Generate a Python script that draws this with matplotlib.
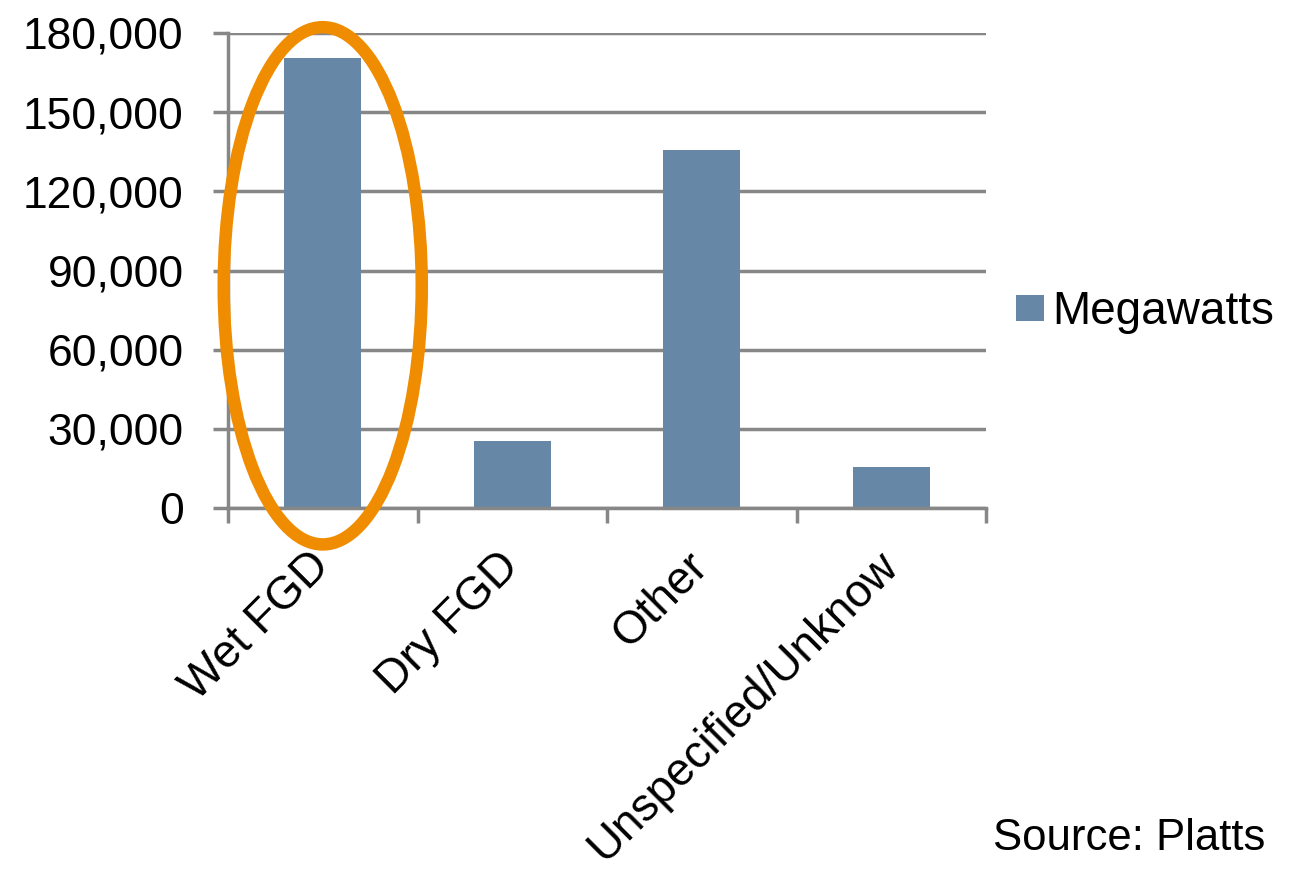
import matplotlib
matplotlib.use("Agg")
import matplotlib.pyplot as plt
from matplotlib.patches import Ellipse
from matplotlib.ticker import FuncFormatter

categories = ["Wet FGD", "Dry FGD", "Other", "Unspecified/Unknow"]
megawatts = [170500, 25300, 135700, 15500]
yticks = [0, 30000, 60000, 90000, 120000, 150000, 180000]

plt.rcParams['font.family'] = ['Liberation Sans', 'DejaVu Sans']
GRAY = '#878787'
BAR = '#6687A6'
ORANGE = '#F08C00'

fig = plt.figure(figsize=(12.9, 8.74), dpi=100)
ax = fig.add_axes([228/1290, 1-508/874, (986-228)/1290, (508-33)/874])

x = list(range(len(categories)))
ax.bar(x, megawatts, width=0.405, color=BAR, label='Megawatts', zorder=2)
ax.set_xlim(-0.5, len(categories)-0.5)
ax.set_ylim(0, 180000)
ax.set_yticks(yticks)
ax.yaxis.set_major_formatter(FuncFormatter(lambda v, p: f"{int(v):,}"))
ax.grid(axis='y', color=GRAY, linewidth=2.5, zorder=0)
ax.set_axisbelow(True)

for s in ['top', 'right']:
    ax.spines[s].set_visible(False)
for s in ['left', 'bottom']:
    ax.spines[s].set_color(GRAY)
    ax.spines[s].set_linewidth(2.5)

ax.set_xticks([i - 0.5 for i in range(len(categories)+1)], minor=False)
ax.set_xticklabels([])
ax.set_xticks(x, minor=True)
ax.set_xticklabels(categories, minor=True, rotation=45, ha='right', va='center',
                   rotation_mode='anchor', fontsize=33)
ax.tick_params(axis='x', which='major', length=11, width=2.5, color=GRAY, direction='out')
ax.tick_params(axis='x', which='minor', length=0, pad=37)
ax.tick_params(axis='y', length=11, width=2.5, color=GRAY, labelsize=32, pad=21)

ell = Ellipse((0, 84200), width=1.045, height=196000, fill=False,
              edgecolor=ORANGE, linewidth=9, clip_on=False, zorder=5)
ax.add_patch(ell)

leg = ax.legend(loc='center left', bbox_to_anchor=(1016/1290, 1-312/874),
                bbox_transform=fig.transFigure, frameon=False, fontsize=33,
                handlelength=0.6, handleheight=0.5, handletextpad=0.2,
                borderpad=0, borderaxespad=0)

fig.text(1265/1290, 1-839/874, "Source: Platts", fontsize=31.5, ha='right', va='center')

fig.savefig('out.png', dpi=100)
